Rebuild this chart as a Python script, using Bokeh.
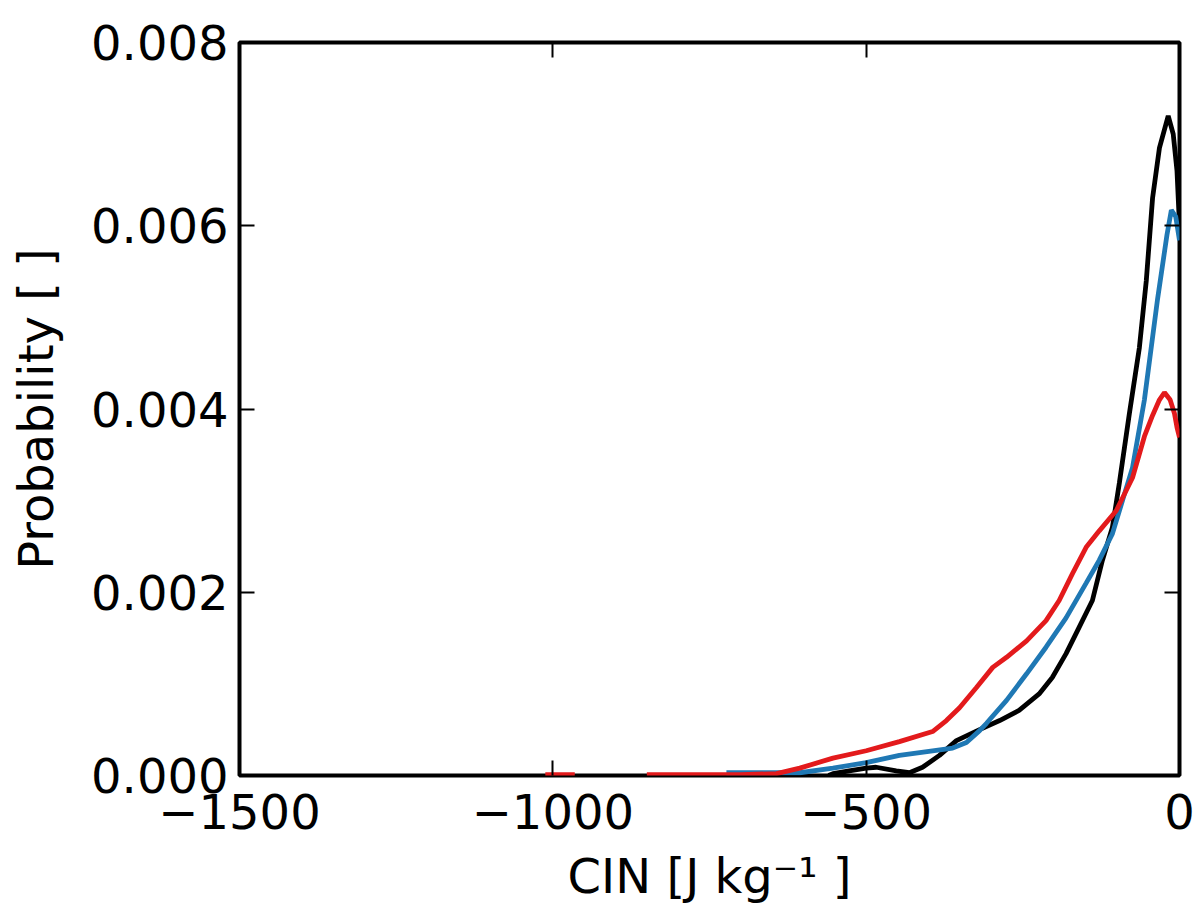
from bokeh.plotting import figure
from bokeh.models import Range1d, LinearAxis, FixedTicker
from bokeh.embed import file_html
from bokeh.resources import INLINE

nan = float("nan")

# ---- data (stretches lying exactly on zero are hidden
# behind the bottom spine in the reference, so they are left out here) ----
x_ticks = [-1500, -1000, -500, 0]
x_tick_labels = ["\u22121500", "\u22121000", "\u2212500", "0"]
y_ticks = [0.0, 0.002, 0.004, 0.006, 0.008]
y_tick_labels = ["0.000", "0.002", "0.004", "0.006", "0.008"]

black_x = [-560, -553, -527, -500, -484, -452, -431, -410, -383, -356, -319,
           -287, -256, -224, -203, -181, -160, -139, -123, -107, -96, -80, -64,
           -53, -43, -32, -18, -10, -4, 0]
black_y = [0.0, 0.00002, 0.00005, 0.00008, 0.00009, 0.00005, 0.00003, 0.00009,
           0.00022, 0.00038, 0.0005, 0.0006, 0.00071, 0.00089, 0.00107, 0.00133,
           0.00162, 0.00191, 0.00235, 0.00271, 0.00319, 0.00395, 0.00467, 0.0054,
           0.0063, 0.00685, 0.0072, 0.0070, 0.0066, 0.0060]

blue_x = [-723, -659, -606, -553, -500, -447, -394, -362, -340, -319,
          -308, -276, -244, -213, -181, -149, -128, -107, -91, -75, -56, -35, -20,
          -13, -6, 0]
blue_y = [0.00003, 0.00003, 0.00003, 0.00008, 0.00014, 0.00022, 0.00027,
          0.0003, 0.00036, 0.00049, 0.00057, 0.00082, 0.00111, 0.0014, 0.00172,
          0.0021, 0.00235, 0.00264, 0.003, 0.00336, 0.0041, 0.0052, 0.0059,
          0.00617, 0.0061, 0.00584]

red_x = [-1012, -965, nan, -850, -700, -643, -606, -553, -500,
         -447, -394, -372, -351, -324, -298, -276, -244, -213, -192, -171, -149,
         -128, -101, -75, -56, -43, -32, -24, -15, -8, -4, 0]
red_y = [0.00001, 0.00001, nan, 0.00001, 0.00001, 0.00002, 0.00008,
         0.00019, 0.00027, 0.00037, 0.00048, 0.0006, 0.00074, 0.00096, 0.00118,
         0.00129, 0.00147, 0.00169, 0.00191, 0.0022, 0.00249, 0.00267, 0.00289,
         0.00325, 0.0037, 0.00393, 0.0041, 0.00418, 0.0041, 0.00395, 0.0038, 0.00369]

FONT = "DejaVu Sans"
FS = "48px"

p = figure(width=1197, height=912, output_backend="svg", toolbar_location=None,
           x_range=Range1d(-1500, 0), y_range=Range1d(0, 0.008),
           min_border_left=239, min_border_right=18, min_border_top=42,
           min_border_bottom=137,
           x_axis_label="CIN [J kg\u207b\u00b9 ]", y_axis_label="Probability [ ]")
p.grid.visible = False
p.outline_line_color = "black"
p.outline_line_width = 4
p.background_fill_color = "white"
p.border_fill_color = "white"

p.line(black_x, black_y, line_color="black", line_width=4.8)
p.line(blue_x, blue_y, line_color="#1f78b4", line_width=4.8)
p.line(red_x, red_y, line_color="#e31a1c", line_width=4.8)

x_over = {t: l for t, l in zip(x_ticks, x_tick_labels)}
y_over = {t: l for t, l in zip(y_ticks, y_tick_labels)}

def style_axis(ax, ticks, overrides, show_labels=True):
    ax.ticker = FixedTicker(ticks=ticks)
    ax.major_tick_in = 15
    ax.major_tick_out = 0
    ax.major_tick_line_width = 2
    ax.major_tick_line_color = "black"
    ax.minor_tick_line_color = None
    ax.axis_line_color = None
    ax.major_label_text_font = FONT
    ax.major_label_text_color = "black"
    ax.axis_label_text_font = FONT
    ax.axis_label_text_font_size = FS
    ax.axis_label_text_font_style = "normal"
    ax.axis_label_text_color = "black"
    if show_labels:
        ax.major_label_overrides = overrides
        ax.major_label_text_font_size = FS
    else:
        ax.major_label_overrides = {t: "" for t in ticks}
        ax.major_label_text_font_size = "1px"
        ax.major_label_standoff = 0

style_axis(p.xaxis[0], x_ticks, x_over)
style_axis(p.yaxis[0], y_ticks, y_over)
p.xaxis[0].major_label_standoff = 18
p.xaxis[0].axis_label_standoff = 16
p.yaxis[0].major_label_standoff = 11
p.yaxis[0].axis_label_standoff = 24

top_ax = LinearAxis()
style_axis(top_ax, x_ticks, {}, show_labels=False)
p.add_layout(top_ax, "above")
right_ax = LinearAxis()
style_axis(right_ax, y_ticks, {}, show_labels=False)
p.add_layout(right_ax, "right")

open("out.html", "w").write(file_html(p, INLINE))
